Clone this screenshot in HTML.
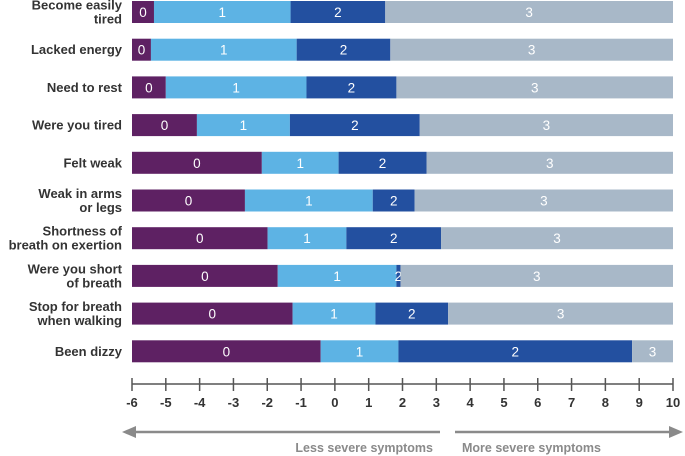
<!DOCTYPE html>
<html><head><meta charset="utf-8"><style>
html,body{margin:0;padding:0;background:#fff;}
svg{display:block;font-family:"Liberation Sans",Arial,sans-serif;}
</style></head><body>
<svg id="chart" width="685" height="456" viewBox="0 0 685 456">
<polygon points="122,432 136,426 136,438" fill="#8a8a8a"/>
<polygon points="683,432 669,426 669,438" fill="#8a8a8a"/>
<g id="bars"></g>
<g id="axis"></g>
<line x1="440" y1="432" x2="134" y2="432" stroke="#8a8a8a" stroke-width="2.5"/>
<line x1="455" y1="432" x2="671" y2="432" stroke="#8a8a8a" stroke-width="2.5"/>
<text x="433" y="452" text-anchor="end" font-size="12.5" font-weight="bold" fill="#8a8a8a">Less severe symptoms</text>
<text x="462" y="452" font-size="12.5" font-weight="bold" fill="#8a8a8a">More severe symptoms</text>
</svg>
<script>
const categories = [["Become easily","tired"],["Lacked energy"],["Need to rest"],["Were you tired"],["Felt weak"],["Weak in arms","or legs"],["Shortness of","breath on exertion"],["Were you short","of breath"],["Stop for breath","when walking"],["Been dizzy"]];
const seg0 = [0.65,0.56,1.0,1.92,3.84,3.34,4.01,4.31,4.75,5.58];
const seg1 = [4.04,4.31,4.16,2.75,2.27,3.78,2.33,3.51,2.45,2.3];
const seg2 = [2.8,2.77,2.66,3.84,2.6,1.24,2.8,0.12,2.15,6.91];
const seg3 = [8.51,8.36,8.18,7.49,7.29,7.64,6.86,8.06,6.65,1.21];
const segLabels = ["0","1","2","3"];
const ticks = [-6,-5,-4,-3,-2,-1,0,1,2,3,4,5,6,7,8,9,10];
const startValue = -6;

const colors = ["#5e2163","#5db3e4","#2350a0","#a8b8c8"];
const ns = "http://www.w3.org/2000/svg";
const x = v => 132 + (v + 6) * (541 / 16);
const rowY = i => 1 + i * 37.7;
const barH = 22;
const bars = document.getElementById('bars');
const axis = document.getElementById('axis');
function mk(tag, attrs, parent){const e=document.createElementNS(ns,tag);for(const k in attrs)e.setAttribute(k,attrs[k]);parent.appendChild(e);return e;}
const series = [seg0, seg1, seg2, seg3];
categories.forEach((cat, i) => {
  const y0 = rowY(i);
  let cur = startValue;
  series.forEach((s, k) => {
    const v = s[i];
    const r = mk('rect', {x: x(cur), y: y0, width: Math.max(0, x(cur+v)-x(cur)), height: barH, fill: colors[k]}, bars);
    
    
    const t = mk('text', {x: (x(cur)+x(cur+v))/2, y: y0+barH/2+5, 'text-anchor':'middle', 'font-size':13.5, fill:'#fff'}, bars);
    t.textContent = segLabels[k];
    
    
    cur += v;
  });
  const lab = mk('text', {x: 122, 'text-anchor':'end', 'font-size':13, 'font-weight':'bold', fill:'#333'}, bars);
  
  
  const yc = y0 + barH/2;
  const n = cat.length;
  cat.forEach((line, j) => {
    const ts = mk('tspan', {x:122, y: yc + 4.5 + (j - (n-1)/2) * 14}, lab);
    ts.textContent = line;
  });
});
const ax = mk('line', {x1: x(-6), x2: x(10), y1: 384, y2: 384, stroke:'#555', 'stroke-width':1.5}, axis);


ticks.forEach(t => {
  const l = mk('line', {x1: x(t), x2: x(t), y1: 378, y2: 391, stroke:'#555', 'stroke-width':1.5}, axis);
  
  
  const tx = mk('text', {x: x(t), y: 407, 'text-anchor':'middle', 'font-size':13, 'font-weight':'bold', fill:'#333'}, axis);
  tx.textContent = t;
  
  
});
</script>
</body></html>
